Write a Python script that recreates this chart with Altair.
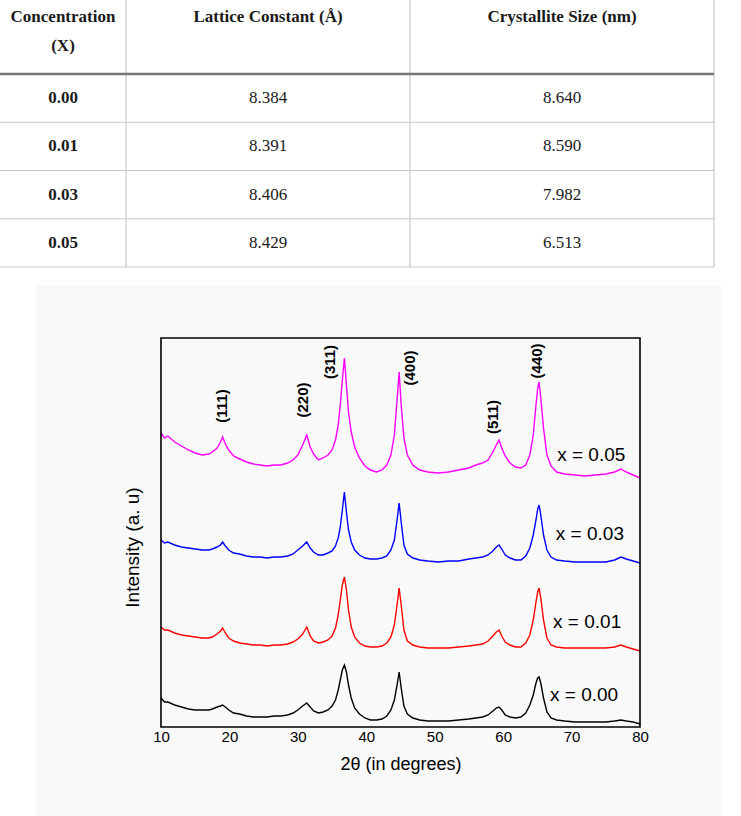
import altair as alt
import pandas as pd

# ---------------------------------------------------------------------------
# XRD patterns of the four samples (intensity in arbitrary units)
# ---------------------------------------------------------------------------
two_theta = [
    10.0, 10.5, 11.0, 12.0, 13.0, 14.0, 15.0, 16.0, 17.0, 17.5,
    18.2, 18.7, 19.0, 19.4, 19.9, 20.6, 21.5, 22.5, 23.5, 24.5,
    25.5, 26.5, 27.5, 28.5, 29.3, 30.0, 30.7, 31.3, 31.8, 32.3,
    33.0, 33.7, 34.4, 35.0, 35.5, 35.9, 36.2, 36.5, 36.8, 37.1,
    37.4, 37.8, 38.3, 39.0, 39.8, 40.6, 41.5, 42.3, 43.0, 43.6,
    44.1, 44.5, 44.8, 45.1, 45.5, 46.0, 46.8, 47.8, 49.0, 50.5,
    52.0, 53.5, 55.0, 56.0, 57.0, 57.8, 58.5, 59.0, 59.4, 59.8,
    60.3, 61.0, 61.8, 62.6, 63.3, 63.9, 64.4, 64.8, 65.05, 65.25,
    65.5, 65.9, 66.4, 67.0, 67.8, 69.0, 70.5, 72.0, 73.5, 75.0,
    76.3, 77.2, 78.0, 79.0, 80.0,
]

intensity_x005 = [
    294, 289, 291, 285, 281, 277, 274, 272, 273, 275,
    279, 285, 290, 283, 277, 271, 268, 265, 263, 262,
    261, 262, 262, 264, 267, 272, 282, 292, 280, 273,
    267, 269, 272, 277, 287, 302, 322, 347, 369, 342,
    315, 295, 280, 269, 261, 257, 255, 257, 262, 272,
    292, 327, 355, 322, 289, 272, 262, 257, 255, 254,
    255, 257, 259, 262, 264, 267, 275, 282, 287, 279,
    271, 264, 260, 259, 262, 272, 292, 322, 339, 345,
    329, 299, 272, 261, 255, 253, 252, 251, 252, 253,
    255, 258, 255, 252, 249,
]

intensity_x003 = [
    187, 184, 185, 182, 180, 179, 178, 177, 177, 178,
    180, 182, 185, 181, 177, 174, 173, 171, 170, 170,
    169, 170, 170, 171, 173, 177, 181, 185, 179, 175,
    172, 172, 174, 176, 181, 189, 200, 217, 235, 215,
    197, 185, 177, 172, 169, 168, 168, 169, 171, 177,
    187, 207, 224, 205, 182, 173, 169, 167, 166, 165,
    166, 166, 168, 169, 170, 172, 176, 180, 182, 178,
    172, 169, 167, 167, 171, 179, 192, 207, 218, 222,
    212, 192, 177, 170, 167, 166, 165, 165, 165, 165,
    167, 170, 168, 166, 164,
]

intensity_x001 = [
    100, 97, 97, 94, 92, 91, 90, 89, 89, 90,
    93, 96, 99, 94, 89, 86, 84, 83, 82, 82,
    81, 82, 82, 83, 85, 88, 93, 100, 91, 86,
    84, 85, 87, 91, 99, 112, 127, 142, 150, 137,
    117, 100, 90, 84, 81, 80, 80, 81, 84, 90,
    102, 122, 139, 122, 97, 86, 82, 80, 79, 79,
    79, 80, 81, 82, 83, 86, 91, 95, 97, 91,
    85, 82, 80, 80, 84, 92, 107, 125, 135, 139,
    129, 107, 89, 82, 80, 79, 79, 79, 79, 79,
    80, 82, 80, 78, 76,
]

intensity_x000 = [
    29, 25, 25, 22, 20, 18, 17, 17, 17, 18,
    20, 21, 22, 20, 17, 14, 13, 11, 10, 10,
    10, 11, 11, 12, 14, 17, 21, 24, 20, 16,
    14, 15, 17, 21, 27, 37, 47, 57, 62, 55,
    42, 29, 19, 13, 9, 7, 7, 8, 11, 17,
    27, 42, 55, 39, 21, 13, 9, 7, 6, 6,
    6, 7, 8, 9, 10, 12, 16, 19, 20, 17,
    12, 10, 9, 10, 14, 22, 32, 44, 49, 50,
    44, 29, 15, 9, 7, 6, 5, 5, 5, 5,
    6, 7, 6, 5, 3,
]

series_names = ["x = 0.00", "x = 0.01", "x = 0.03", "x = 0.05"]
series_colors = ["#000000", "#ff0000", "#0000ff", "#ff00ff"]
series_values = [intensity_x000, intensity_x001, intensity_x003, intensity_x005]

# anchor (left edge, vertical centre) of each series label
series_label_theta = [66.85, 67.3, 67.7, 67.9]
series_label_int = [32, 105, 193, 272]

# Miller indices written above the x = 0.05 pattern
hkl_labels = ["(111)", "(220)", "(311)", "(400)", "(511)", "(440)"]
hkl_theta = [18.9, 30.75, 34.7, 46.4, 58.5, 64.95]
hkl_int = [321, 327, 365, 359, 310, 366]

# ---------------------------------------------------------------------------
# Table of lattice parameters
# ---------------------------------------------------------------------------
header_cells = [["Concentration", "(X)"], ["Lattice Constant (Å)"], ["Crystallite Size (nm)"]]
concentration = ["0.00", "0.01", "0.03", "0.05"]
lattice_constant = [8.384, 8.391, 8.406, 8.429]
crystallite_size = [8.640, 8.590, 7.982, 6.513]

for vals in series_values:
    assert len(vals) == len(two_theta)

# ---------------------------------------------------------------------------
# Layout
# ---------------------------------------------------------------------------
CANVAS_W, CANVAS_H = 741, 816
PLOT_X0, PLOT_Y0 = 161, 338
PLOT_W, PLOT_H = 479, 389
I_MAX = 389

COL_EDGES = [0, 126, 410, 714]
HEADER_TEXT_Y = [17, 46]
HEADER_RULE_Y = 74
ROW_H = 48.25
TABLE_BOTTOM = HEADER_RULE_Y + ROW_H * len(concentration)
BACKDROP = (36, 285, 722, 816)

SANS = "Liberation Sans"
SERIF = "Liberation Serif"

px_x_scale = alt.Scale(domain=[0, CANVAS_W], range=[-PLOT_X0, CANVAS_W - PLOT_X0], nice=False, zero=False)
px_y_scale = alt.Scale(domain=[0, CANVAS_H], range=[-PLOT_Y0, CANVAS_H - PLOT_Y0], nice=False, zero=False)
theta_scale = alt.Scale(domain=[10, 80], nice=False, zero=False)
int_scale = alt.Scale(domain=[0, I_MAX], nice=False, zero=False)


def PX(field):
    return alt.X(field, type="quantitative", scale=px_x_scale, axis=None)


def PY(field):
    return alt.Y(field, type="quantitative", scale=px_y_scale, axis=None)


# ---- backdrop of the figure ----
backdrop = alt.Chart(pd.DataFrame([{
    "x0": BACKDROP[0], "y0": BACKDROP[1], "x1": BACKDROP[2], "y1": BACKDROP[3]}])
).mark_rect(color="#f9f9f9").encode(
    x=PX("x0"), x2=alt.X2("x1"), y=PY("y0"), y2=alt.Y2("y1"))

# ---- table grid ----
row_rules = pd.DataFrame({
    "y": [HEADER_RULE_Y + ROW_H * (i + 1) for i in range(len(concentration))],
    "x0": COL_EDGES[0], "x1": COL_EDGES[-1]})
table_rows = alt.Chart(row_rules).mark_rule(color="#c9c9c9", strokeWidth=1.2).encode(
    x=PX("x0"), x2=alt.X2("x1"), y=PY("y"))

header_rule = alt.Chart(pd.DataFrame([{"y": HEADER_RULE_Y, "x0": COL_EDGES[0], "x1": COL_EDGES[-1]}])
                        ).mark_rule(color="#767676", strokeWidth=2.6).encode(
    x=PX("x0"), x2=alt.X2("x1"), y=PY("y"))

col_rules = pd.DataFrame({"x": COL_EDGES[1:], "y0": 0, "y1": TABLE_BOTTOM})
table_cols = alt.Chart(col_rules).mark_rule(color="#c9c9c9", strokeWidth=1.2).encode(
    x=PX("x"), y=PY("y0"), y2=alt.Y2("y1"))

# ---- table text ----
col_centres = [(COL_EDGES[i] + COL_EDGES[i + 1]) / 2 for i in range(3)]
bold_cells, plain_cells = [], []
for c, lines in enumerate(header_cells):
    for k, line in enumerate(lines):
        bold_cells.append({"text": line, "x": col_centres[c], "y": HEADER_TEXT_Y[k]})
for r in range(len(concentration)):
    yc = HEADER_RULE_Y + ROW_H * (r + 0.5)
    bold_cells.append({"text": concentration[r], "x": col_centres[0], "y": yc})
    plain_cells.append({"text": f"{lattice_constant[r]:.3f}", "x": col_centres[1], "y": yc})
    plain_cells.append({"text": f"{crystallite_size[r]:.3f}", "x": col_centres[2], "y": yc})

table_bold = alt.Chart(pd.DataFrame(bold_cells)).mark_text(
    font=SERIF, fontSize=17, fontWeight="bold", color="#1a1a1a", align="center", baseline="middle"
).encode(x=PX("x"), y=PY("y"), text="text:N")
table_plain = alt.Chart(pd.DataFrame(plain_cells)).mark_text(
    font=SERIF, fontSize=17, color="#1a1a1a", align="center", baseline="middle"
).encode(x=PX("x"), y=PY("y"), text="text:N")

# ---- diffraction patterns ----
rows = []
for name, vals in zip(series_names, series_values):
    for t, v in zip(two_theta, vals):
        rows.append({"two_theta": t, "intensity": v, "sample": name})
patterns = pd.DataFrame(rows)

x_axis = alt.Axis(
    values=list(range(10, 81, 10)), format="d", title="2θ (in degrees)",
    grid=False, ticks=False, tickSize=0, domain=False, labelPadding=2, labelFlush=False,
    labelFont=SANS, labelFontSize=15, labelColor="#000",
    titleFont=SANS, titleFontSize=18, titleFontWeight="normal", titleColor="#000",
    titleY=37, titleBaseline="middle", zindex=2)
y_axis = alt.Axis(
    title="Intensity (a. u)", labels=False, ticks=False, tickSize=0, domain=False, grid=False,
    titleFont=SANS, titleFontSize=19, titleFontWeight="normal", titleColor="#000",
    titleX=-19, titleY=209, titleBaseline="bottom", zindex=2)

lines = alt.Chart(patterns).mark_line(strokeWidth=1.4).encode(
    x=alt.X("two_theta:Q", scale=theta_scale, axis=x_axis),
    y=alt.Y("intensity:Q", scale=int_scale, axis=y_axis),
    color=alt.Color("sample:N", scale=alt.Scale(domain=series_names, range=series_colors), legend=None),
    detail="sample:N",
)

frame = alt.Chart(pd.DataFrame({"k": [0]})).mark_rect(
    filled=False, stroke="#000", strokeWidth=1.6
).encode(x=alt.value(0), x2=alt.value("width"), y=alt.value(0), y2=alt.value("height"))

hkl = alt.Chart(pd.DataFrame({"label": hkl_labels, "two_theta": hkl_theta, "intensity": hkl_int})
                ).mark_text(font=SANS, fontSize=15, fontWeight="bold", angle=270,
                            align="center", baseline="middle", color="#000").encode(
    x=alt.X("two_theta:Q", scale=theta_scale, axis=None),
    y=alt.Y("intensity:Q", scale=int_scale, axis=None),
    text="label:N")

series_labels = alt.Chart(pd.DataFrame({
    "label": series_names, "two_theta": series_label_theta, "intensity": series_label_int})
).mark_text(font=SANS, fontSize=19, align="left", baseline="middle", color="#000").encode(
    x=alt.X("two_theta:Q", scale=theta_scale, axis=None),
    y=alt.Y("intensity:Q", scale=int_scale, axis=None),
    text="label:N")

chart = alt.layer(
    backdrop, table_rows, table_cols, header_rule, table_bold, table_plain,
    lines, frame, hkl, series_labels,
).resolve_scale(
    x="independent", y="independent", color="independent"
).properties(
    width=PLOT_W, height=PLOT_H,
    autosize=alt.AutoSizeParams(type="none"),
    padding={"left": PLOT_X0, "top": PLOT_Y0,
             "right": CANVAS_W - PLOT_X0 - PLOT_W, "bottom": CANVAS_H - PLOT_Y0 - PLOT_H},
    background="white",
).configure_view(stroke=None)

chart.save("out.html", embed_options={"renderer": "svg", "actions": False})
